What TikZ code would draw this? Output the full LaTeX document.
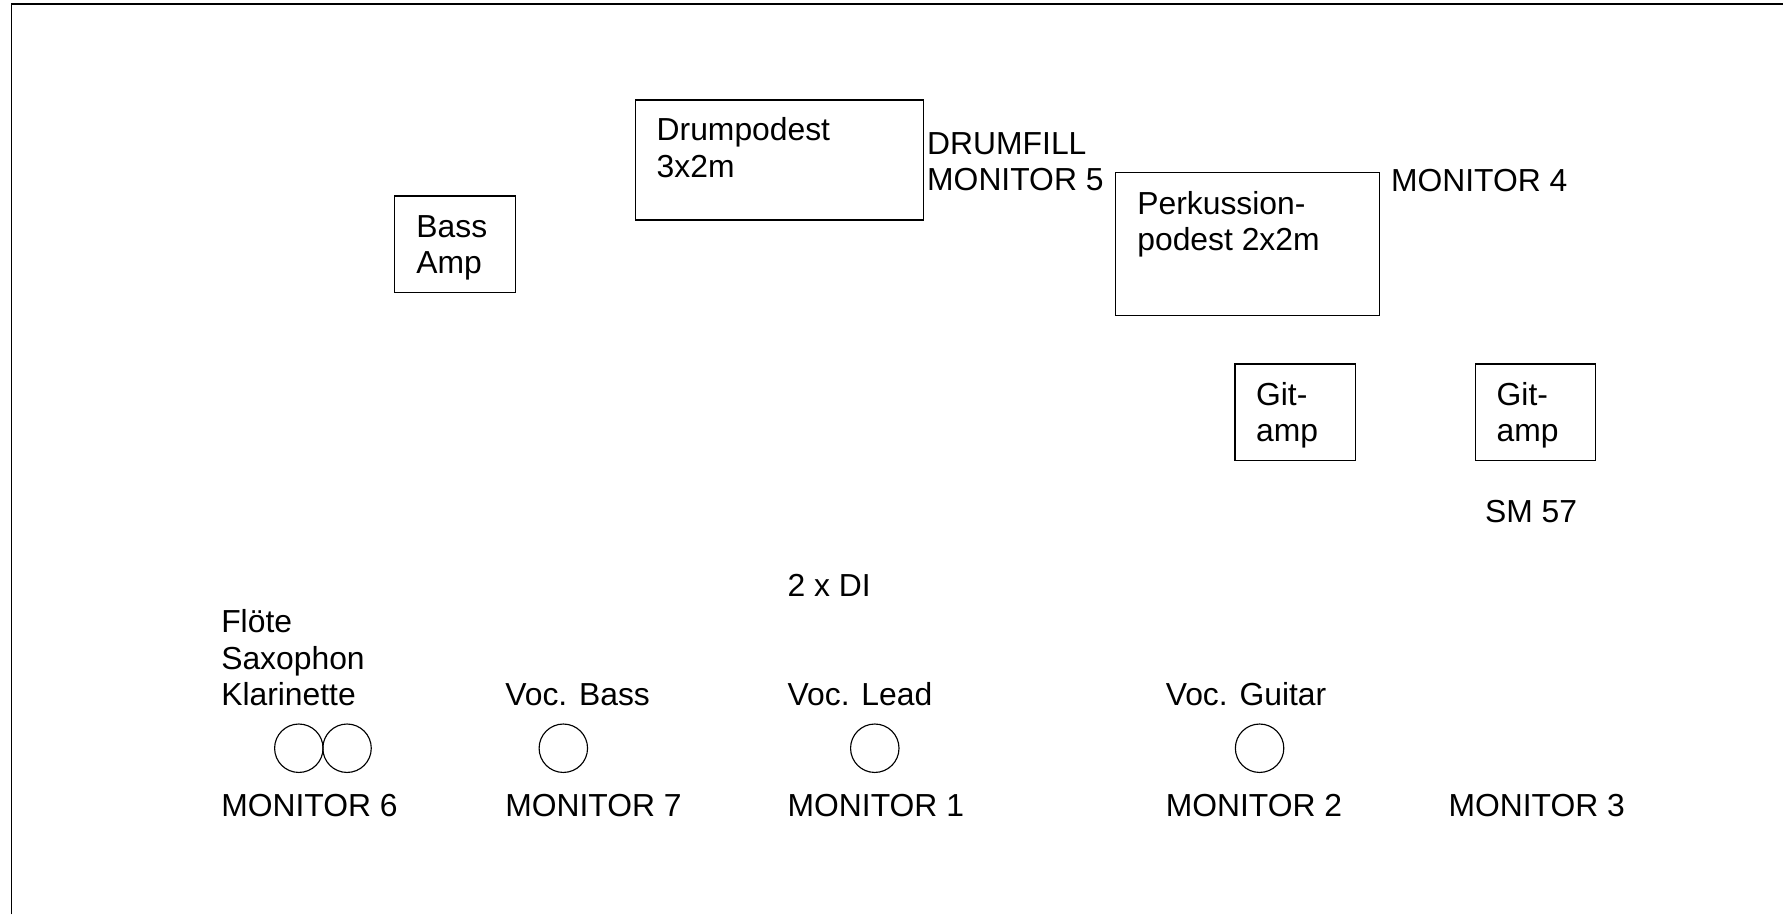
\documentclass[tikz,border=0pt]{standalone}
\usepackage{fontspec}
\setmainfont{Liberation Sans}
\begin{document}
\begin{tikzpicture}[x=1pt,y=-1pt,
  lbl/.style={anchor=base west,inner sep=0pt,outer sep=0pt,font=\fontsize{28}{32}\selectfont},
  box/.style={draw,line width=1pt,anchor=north west,inner sep=0pt,outer sep=0pt},
  mon/.style={draw,circle,line width=1pt,inner sep=0pt,minimum size=42.6pt}]
\useasboundingbox (0,0) rectangle (1568,804);
% stage frame (top and left edges only)
\draw[line width=1.6pt] (10.1,804) -- (10.1,3.5) -- (1568,3.5);
% boxes
\node[box,minimum width=106.1pt,minimum height=84.7pt] (bass) at (347.3,172.4) {};
\node[box,minimum width=253.8pt,minimum height=105.6pt] (drum) at (558.6,87.9) {};
\node[box,minimum width=232.4pt,minimum height=126pt] (perk) at (980.6,151.6) {};
\node[box,minimum width=106.1pt,minimum height=84.7pt] (git1) at (1086.1,320.1) {};
\node[box,minimum width=106.1pt,minimum height=84.7pt] (git2) at (1297.2,320.1) {};
% box texts
\node[lbl] (bassA) at (366.2,208.7) {Bass};
\node[lbl] (bassB) at (366.2,240.7) {Amp};
\node[lbl] (drumA) at (577.5,123.7) {Drumpodest};
\node[lbl] (drumB) at (577.5,155.7) {3x2m};
\node[lbl] (perkA) at (1000.2,188.2) {Perkussion-};
\node[lbl] (perkB) at (1000.2,220.2) {podest 2x2m};
\node[lbl] (git1A) at (1104.6,356.2) {Git-};
\node[lbl] (git1B) at (1104.6,388.2) {amp};
\node[lbl] (git2A) at (1316.2,356.2) {Git-};
\node[lbl] (git2B) at (1316.2,388.2) {amp};
% free labels
\node[lbl] (dfA) at (815.4,135.6) {DRUMFILL};
\node[lbl] (dfB) at (815.4,167.8) {MONITOR 5};
\node[lbl] (m4) at (1223.3,168.3) {MONITOR 4};
\node[lbl] (sm) at (1306,459.7) {SM 57};
\node[lbl] (di) at (692.7,524.7) {2 x DI};
\node[lbl] (flA) at (194.6,556.4) {Flöte};
\node[lbl] (flB) at (194.6,588.6) {Saxophon};
\node[lbl] (flC) at (194.6,620.8) {Klarinette};
\node[lbl] (vb) at (444.4,620.8) {Voc. Bass};
\node[lbl] (vl) at (692.7,620.8) {Voc. Lead};
\node[lbl] (vg) at (1025.2,620.8) {Voc. Guitar};
% microphones
\node[mon] (c1) at (262.8,658) {};
\node[mon] (c2) at (305.2,658) {};
\node[mon] (c3) at (495.4,658) {};
\node[mon] (c4) at (769.3,658) {};
\node[mon] (c5) at (1107.7,658) {};
% monitors
\node[lbl] (m6) at (194.6,718.2) {MONITOR 6};
\node[lbl] (m7) at (444.4,718.2) {MONITOR 7};
\node[lbl] (m1) at (692.7,718.2) {MONITOR 1};
\node[lbl] (m2) at (1025.2,718.2) {MONITOR 2};
\node[lbl] (m3) at (1273.9,718.2) {MONITOR 3};
\end{tikzpicture}
\end{document}
